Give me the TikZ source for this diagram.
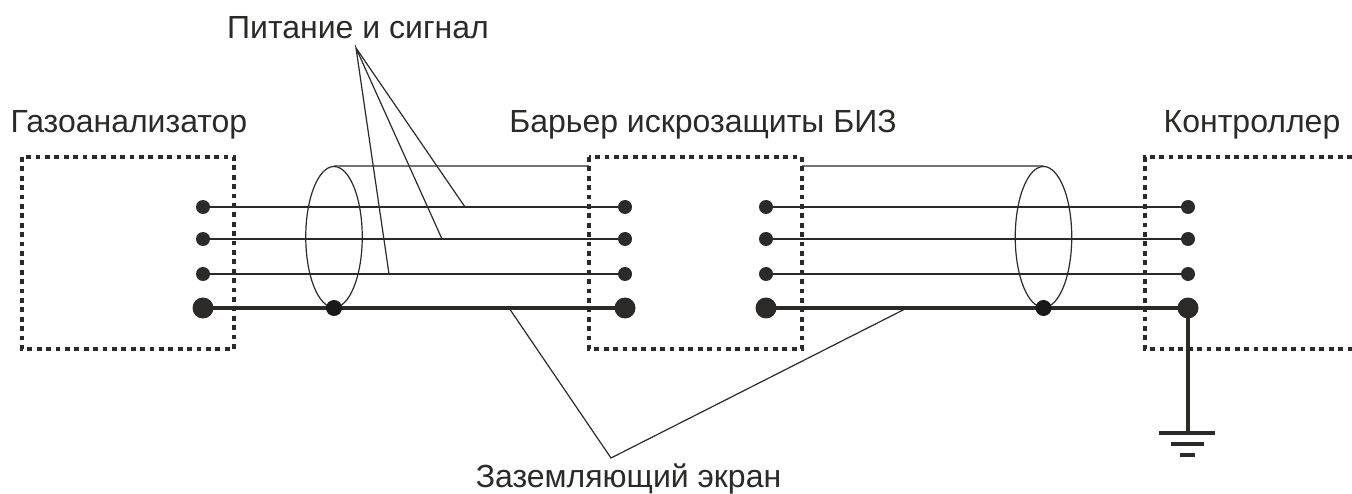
\documentclass[tikz,border=0pt]{standalone}
\usepackage{fontspec}
\setmainfont{Liberation Sans}
\definecolor{ink}{HTML}{2B2A29}
\usetikzlibrary{shapes.geometric}
\tikzset{
 x=1pt,y=-1pt,
 wire/.style={draw=ink,line width=2pt},
 gwire/.style={draw=ink,line width=4pt},
 thin line/.style={draw=ink,line width=1.2pt},
 frame/.style={draw=ink,line width=4.8pt,dash pattern=on 4.8pt off 4.6pt},
 term/.style={circle,fill=ink,inner sep=0pt,minimum size=14pt},
 bigterm/.style={circle,fill=ink,inner sep=0pt,minimum size=21pt},
 joint/.style={circle,fill=black!90,inner sep=0pt,minimum size=16pt},
 lbl/.style={font=\fontsize{32}{36}\selectfont,text=ink,inner sep=0pt,anchor=base},
 shell/.style={draw=ink,line width=1.2pt,ellipse,minimum width=56.5pt,minimum height=141pt,inner sep=0pt}
}
\begin{document}
\begin{tikzpicture}
\useasboundingbox (0,0) rectangle (1352,494);
% frames
\draw[frame] (22,157) rectangle (234,349);
\draw[frame] (589,157) rectangle (802,349);
\draw[frame] (1352,157) -- (1145,157) -- (1145,349) -- (1352,349);
% shells
\node[shell] (s1) at (334,237) {};
\node[shell] (s2) at (1043.5,237) {};
% terminals
\foreach \n/\x in {a/203,b/625,c/766,d/1188}{
 \node[term] (\n1) at (\x,207) {};
 \node[term] (\n2) at (\x,239) {};
 \node[term] (\n3) at (\x,274) {};
 \node[bigterm] (\n4) at (\x,308) {};
}
% wires
\foreach \i in {1,2,3}{
 \draw[wire] (a\i.center) -- (b\i.center);
 \draw[wire] (c\i.center) -- (d\i.center);
}
\draw[gwire] (a4.center) -- (b4.center);
\draw[gwire] (c4.center) -- (d4.center);
\node[joint] (j1) at (334,308) {};
\node[joint] (j2) at (1043.5,308) {};
% shell top edges
\draw[thin line] (s1.north) -- (589,166);
\draw[thin line] (802,166) -- (s2.north);
% ground
\coordinate (g0) at (1188,433);
\draw[gwire] (d4.center) -- (g0);
\coordinate (g1l) at (1159,433); \coordinate (g1r) at (1215,433);
\coordinate (g2l) at (1171,443.5); \coordinate (g2r) at (1204,443.5);
\coordinate (g3l) at (1180,454.5); \coordinate (g3r) at (1195,454.5);
\draw[gwire] (g1l) -- (g1r);
\draw[gwire] (g2l) -- (g2r);
\draw[gwire] (g3l) -- (g3r);
% labels
\node[lbl] (t1) at (358,38.5) {Питание и сигнал};
\node[lbl] (t2) at (129,132.5) {Газоанализатор};
\node[lbl] (t3) at (703,132.5) {Барьер искрозащиты БИЗ};
\node[lbl] (t4) at (1252,132.5) {Контроллер};
\node[lbl] (t5) at (628.5,487.5) {Заземляющий экран};
% leaders
\coordinate (p0) at (356,48);
\coordinate (p1) at (389,274);
\coordinate (p2) at (442,239);
\coordinate (p3) at (465,207);
\draw[thin line] (p1) -- (p0) -- (p2);
\draw[thin line] (p0) -- (p3);
\coordinate (q0) at (611,458);
\coordinate (q1) at (509,308);
\coordinate (q2) at (907,308);
\draw[thin line] (q1) -- (q0) -- (q2);
\end{tikzpicture}
\end{document}
